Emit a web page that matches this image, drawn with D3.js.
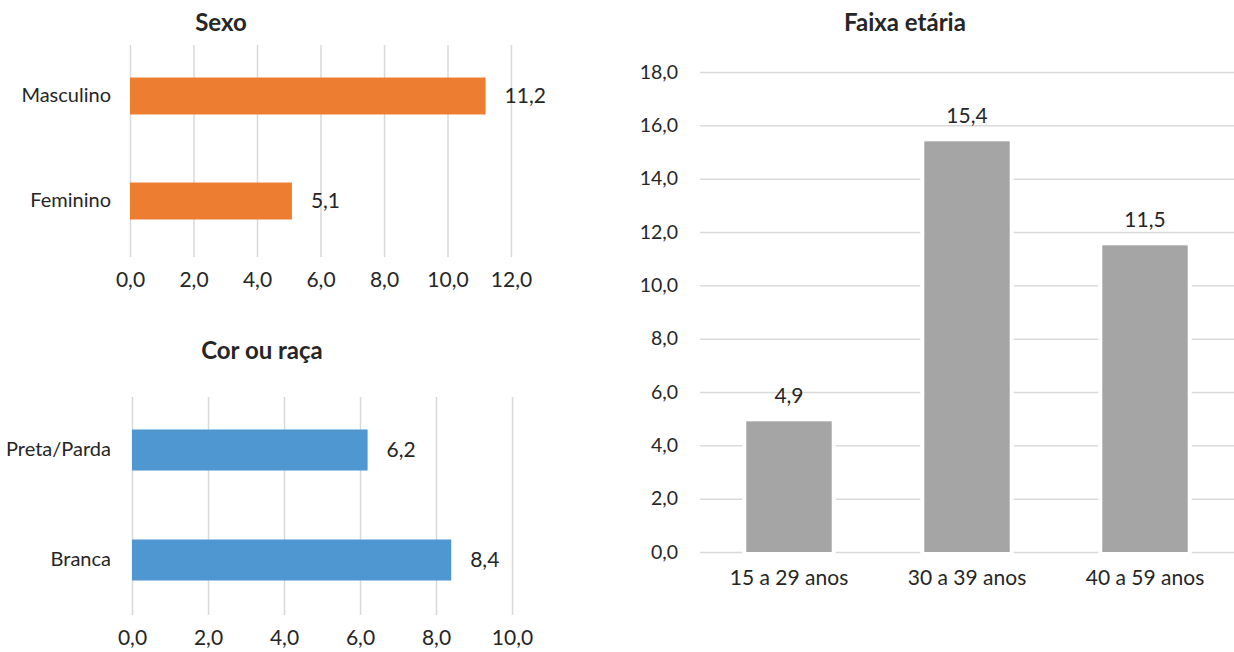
<!DOCTYPE html>
<html>
<head>
<meta charset="utf-8">
<script src="https://cdn.jsdelivr.net/npm/d3@7"></script>
<style>
body { margin:0; background:#fff; }
text { font-family: Lato, "Open Sans", sans-serif; fill:#262626; }
.domain { display:none; }
.grid line { stroke:#d9d9d9; stroke-width:1.5; }
</style>
</head>
<body>
<svg id="chart" width="1234" height="652"></svg>
<script>
// dados
let sexoCat = ["Masculino","Feminino"]
let sexoVal = [11.2,5.1]
let sexoTicks = [0,2,4,6,8,10,12]

let corCat = ["Preta/Parda","Branca"]
let corVal = [6.2,8.4]
let corTicks = [0,2,4,6,8,10]

let faixaCat = ["15 a 29 anos","30 a 39 anos","40 a 59 anos"]
let faixaVal = [4.9,15.4,11.5]
let faixaTicks = [0,2,4,6,8,10,12,14,16,18]

let br = d3.formatLocale({decimal:",",thousands:".",grouping:[3],currency:["R$",""]})
let fmt = br.format(".1f")

let svg = d3.select("#chart")

function hbar(cat,val,ticks,title,color,box) {
    // box: x0,x1 (0 and max tick), y0,y1 (grid top/bottom), b0,b1 band range
    let xscale = d3.scaleLinear()
        .domain([0,d3.max(ticks)])
        .range([box.x0,box.x1])
    let yscale = d3.scaleBand()
        .domain(cat)
        .range([box.b0,box.b1])
        .paddingInner(box.pad)
        .paddingOuter(box.pad/2)

    let g = svg.append("g")

    g.append("text")
        .text(title)
        .attr("x",box.tx)
        .attr("y",box.ty)
        .attr("text-anchor","middle")
        .style("font-size","24px")
        .style("font-weight","bold")

    let grid = d3.axisBottom(xscale).tickValues(ticks).tickSize(-(box.y1-box.y0)).tickFormat("")
    g.append("g").attr("class","grid")
        .attr("transform",`translate(0,${box.y1})`)
        .call(grid)

    let xaxis = d3.axisBottom(xscale).tickValues(ticks).tickSize(0).tickFormat(fmt)
    g.append("g")
        .attr("transform",`translate(0,${box.ly})`)
        .call(xaxis)
        .selectAll("text").style("font-size","21px").attr("dy","0.35em").attr("y",0)

    let yaxis = d3.axisLeft(yscale).tickSize(0).tickPadding(box.x0-box.lx)
    g.append("g")
        .attr("transform",`translate(${box.x0},0)`)
        .call(yaxis)
        .selectAll("text").style("font-size","20px")

    let bars = g.selectAll(".bar")
        .data(cat)
        .enter().append("g")

    bars.append("rect")
        .attr("x",xscale(0))
        .attr("y",d=>yscale(d))
        .attr("width",(d,i)=>xscale(val[i])-xscale(0))
        .attr("height",yscale.bandwidth())
        .style("fill",color)

    bars.append("text")
        .text((d,i)=>fmt(val[i]))
        .attr("x",(d,i)=>xscale(val[i])+19)
        .attr("y",d=>yscale(d)+yscale.bandwidth()/2)
        .attr("dy","0.35em")
        .style("font-size","21px")
}

hbar(sexoCat,sexoVal,sexoTicks,"Sexo","#ed7d31",
    {x0:130,x1:511,y0:45,y1:257,b0:43.5,b1:253.5,pad:0.648,tx:221,ty:31,ly:280,lx:111})
hbar(corCat,corVal,corTicks,"Cor ou raça","#4e97d0",
    {x0:132,x1:512,y0:397,y1:615,b0:395,b1:615,pad:0.627,tx:262,ty:359,ly:638,lx:111})

// faixa etaria
let fx = d3.scaleBand()
    .domain(faixaCat)
    .range([700,1234])
    .paddingInner(0.52)
    .paddingOuter(0.26)
let fy = d3.scaleLinear()
    .domain([0,18])
    .range([552,72])

let fg = svg.append("g")

fg.append("text")
    .text("Faixa etária")
    .attr("x",905)
    .attr("y",31)
    .attr("text-anchor","middle")
    .style("font-size","24px")
    .style("font-weight","bold")

fg.append("g").attr("class","grid")
    .attr("transform","translate(700,0)")
    .call(d3.axisLeft(fy).tickValues(faixaTicks).tickSize(-534).tickFormat(""))

fg.append("g")
    .attr("transform","translate(678,0)")
    .call(d3.axisLeft(fy).tickValues(faixaTicks).tickSize(0).tickPadding(0).tickFormat(fmt))
    .selectAll("text").style("font-size","19.5px")

fg.append("g")
    .attr("transform","translate(0,578)")
    .call(d3.axisBottom(fx).tickSize(0).tickPadding(0))
    .selectAll("text").style("font-size","21px").attr("dy","0.35em")

let fbars = fg.selectAll(".fbar")
    .data(faixaCat)
    .enter().append("g")

fbars.append("rect")
    .attr("x",d=>fx(d))
    .attr("y",(d,i)=>fy(faixaVal[i]))
    .attr("width",fx.bandwidth())
    .attr("height",(d,i)=>fy(0)-fy(faixaVal[i]))
    .style("fill","#a5a5a5")
    .style("stroke","#fff")
    .style("stroke-width",8)
    .style("paint-order","stroke")

fbars.append("text")
    .text((d,i)=>fmt(faixaVal[i]))
    .attr("x",d=>fx(d)+fx.bandwidth()/2)
    .attr("y",(d,i)=>fy(faixaVal[i])-26)
    .attr("dy","0.35em")
    .attr("text-anchor","middle")
    .style("font-size","21px")
</script>
</body>
</html>
